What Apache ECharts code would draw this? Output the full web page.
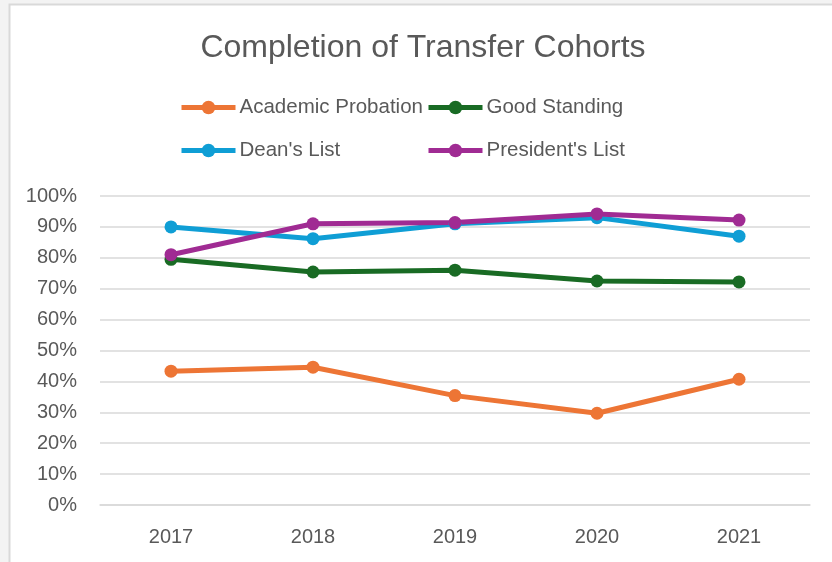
<!DOCTYPE html>
<html>
<head>
<meta charset="utf-8">
<script src="https://cdn.jsdelivr.net/npm/echarts@6/dist/echarts.min.js"></script>
<style>
  html, body { margin: 0; padding: 0; background: #f3f3f3; }
  #chart-container { width: 832px; height: 562px; }
</style>
</head>
<body>
<div id="chart-container"></div>
<script>
var years = ["2017", "2018", "2019", "2020", "2021"];
var academicProbation = [0.433, 0.446, 0.354, 0.297, 0.407];
var goodStanding = [0.795, 0.754, 0.760, 0.725, 0.722];
var deansList = [0.900, 0.862, 0.910, 0.930, 0.870];
var presidentsList = [0.810, 0.910, 0.914, 0.942, 0.922];

var textColor = "#595959";
var fontFamily = "'Liberation Sans', Arial, sans-serif";

var dom = document.getElementById("chart-container");
var myChart = echarts.init(dom, null, {
  renderer: "canvas",
  useDirtyRect: false,
});

function makeSeries(name, data, color) {
  return {
    name: name,
    type: "line",
    data: data,
    symbol: "circle",
    symbolSize: 13,
    lineStyle: { width: 5, color: color },
    itemStyle: { color: color },
    emphasis: { disabled: true },
  };
}

function makeLegend(name, left, top) {
  return {
    data: [name],
    left: left,
    top: top,
    itemWidth: 54,
    itemHeight: 17,
    itemGap: 4,
    lineStyle: { width: 5 },
    textStyle: { color: textColor, fontSize: 20.5, fontFamily: fontFamily, padding: [0, 0, 0, -1] },
    selectedMode: false,
  };
}

var option = {
  backgroundColor: "#f3f3f3",
  animation: false,
  graphic: [
    {
      type: "rect",
      shape: { x: 9.5, y: 4.5, width: 830, height: 565 },
      style: { fill: "#ffffff", stroke: "#d9d9d9", lineWidth: 2 },
      z: -10,
    },
  ],
  title: {
    text: "Completion of Transfer Cohorts",
    left: 418,
    textAlign: "center",
    top: 27,
    textStyle: {
      fontSize: 32,
      fontWeight: "normal",
      color: textColor,
      fontFamily: fontFamily,
    },
  },
  legend: [
    makeLegend("Academic Probation", 174, 92),
    makeLegend("Good Standing", 421, 92),
    makeLegend("Dean's List", 174, 135),
    makeLegend("President's List", 421, 135),
  ],
  grid: {
    left: 100,
    right: 22,
    top: 196,
    bottom: 57,
  },
  xAxis: {
    type: "category",
    data: years,
    boundaryGap: true,
    axisLine: { show: true, lineStyle: { color: "#d9d9d9", width: 1.5 } },
    axisTick: { show: false },
    axisLabel: { color: textColor, fontSize: 20, fontFamily: fontFamily, margin: 22 },
  },
  yAxis: {
    type: "value",
    min: 0,
    max: 1,
    interval: 0.1,
    axisLine: { show: false },
    axisTick: { show: false },
    splitLine: { lineStyle: { color: "#d9d9d9", width: 1.5 } },
    axisLabel: {
      color: textColor,
      fontSize: 20,
      fontFamily: fontFamily,
      margin: 23,
      formatter: function (v) {
        return Math.round(v * 100) + "%";
      },
    },
  },
  series: [
    makeSeries("Academic Probation", academicProbation, "#ed7535"),
    makeSeries("Good Standing", goodStanding, "#196b24"),
    makeSeries("Dean's List", deansList, "#0f9ed5"),
    makeSeries("President's List", presidentsList, "#a02b93"),
  ],
};

if (option && typeof option === "object") {
  myChart.setOption(option);
}
window.addEventListener("resize", myChart.resize);
</script>
</body>
</html>
